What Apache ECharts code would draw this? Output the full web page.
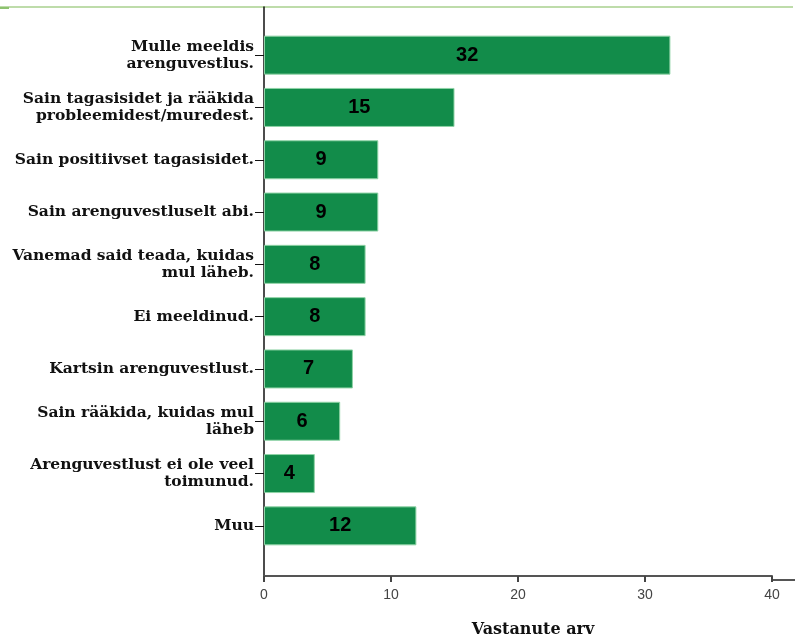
<!DOCTYPE html>
<html>
<head>
<meta charset="utf-8">
<script src="https://cdn.jsdelivr.net/npm/echarts@6/dist/echarts.min.js"></script>
<style>
html,body{margin:0;padding:0;background:#fff;}
#chart{width:795px;height:643px;}
</style>
</head>
<body>
<div id="chart"></div>
<script>
var categories = [
  'Mulle meeldis\narenguvestlus.',
  'Sain tagasisidet ja rääkida\nprobleemidest/muredest.',
  'Sain positiivset tagasisidet.',
  'Sain arenguvestluselt abi.',
  'Vanemad said teada, kuidas\nmul läheb.',
  'Ei meeldinud.',
  'Kartsin arenguvestlust.',
  'Sain rääkida, kuidas mul\nläheb',
  'Arenguvestlust ei ole veel\ntoimunud.',
  'Muu'
];
var values = [32, 15, 9, 9, 8, 8, 7, 6, 4, 12];
var xTicks = [0, 10, 20, 30, 40];
var axisTitle = 'Vastanute arv';

var chart = echarts.init(document.getElementById('chart'));
chart.setOption({
  animation: false,
  backgroundColor: '#ffffff',
  grid: [
    {left: 264, right: 23, top: 29, height: 523},
    {left: 264, right: 23, top: 7, bottom: 63}
  ],
  xAxis: [
    {gridIndex: 0, type: 'value', min: xTicks[0], max: xTicks[xTicks.length - 1], show: false},
    {
      gridIndex: 1, type: 'value', min: xTicks[0], max: xTicks[xTicks.length - 1], interval: 10,
      axisLine: {show: true, lineStyle: {color: '#555', width: 2}},
      axisTick: {show: true, length: 6, lineStyle: {color: '#444', width: 2}},
      axisLabel: {color: '#444', fontSize: 14, fontFamily: 'Liberation Sans', margin: 12},
      splitLine: {show: false},
      name: axisTitle, nameLocation: 'middle', nameGap: 46,
      nameTextStyle: {fontFamily: 'DejaVu Serif', fontWeight: 'bold', fontSize: 16, color: '#111', padding: [0, 0, 0, 30]}
    }
  ],
  yAxis: [
    {
      gridIndex: 0, type: 'category', inverse: true, data: categories,
      axisLine: {show: false},
      axisTick: {show: true, alignWithLabel: true, length: 9, lineStyle: {color: '#111', width: 1}},
      axisLabel: {color: '#111', fontFamily: 'DejaVu Serif', fontWeight: 'bold', fontSize: 15.5, lineHeight: 17, margin: 10, align: 'right'}
    },
    {
      gridIndex: 1, type: 'value', min: 0, max: 1,
      axisLine: {show: true, lineStyle: {color: '#111', width: 1.5}},
      axisTick: {show: false}, axisLabel: {show: false}, splitLine: {show: false}
    }
  ],
  graphic: [
    {type: 'line', shape: {x1: 0, y1: 7, x2: 793, y2: 7}, style: {stroke: '#a9d18e', lineWidth: 1.5}},
    {type: 'line', shape: {x1: 0, y1: 8, x2: 9, y2: 8}, style: {stroke: '#8dc26f', lineWidth: 2}},
    {type: 'line', shape: {x1: 772, y1: 580, x2: 795, y2: 580}, style: {stroke: '#555', lineWidth: 2}}
  ],
  series: [{
    type: 'bar', xAxisIndex: 0, yAxisIndex: 0, data: values, barWidth: 39,
    itemStyle: {color: '#128c4a', borderColor: '#8fd3a6', borderWidth: 1},
    label: {show: true, position: 'inside', color: '#000', fontFamily: 'Liberation Sans', fontWeight: 'bold', fontSize: 20}
  }]
});
</script>
</body>
</html>
